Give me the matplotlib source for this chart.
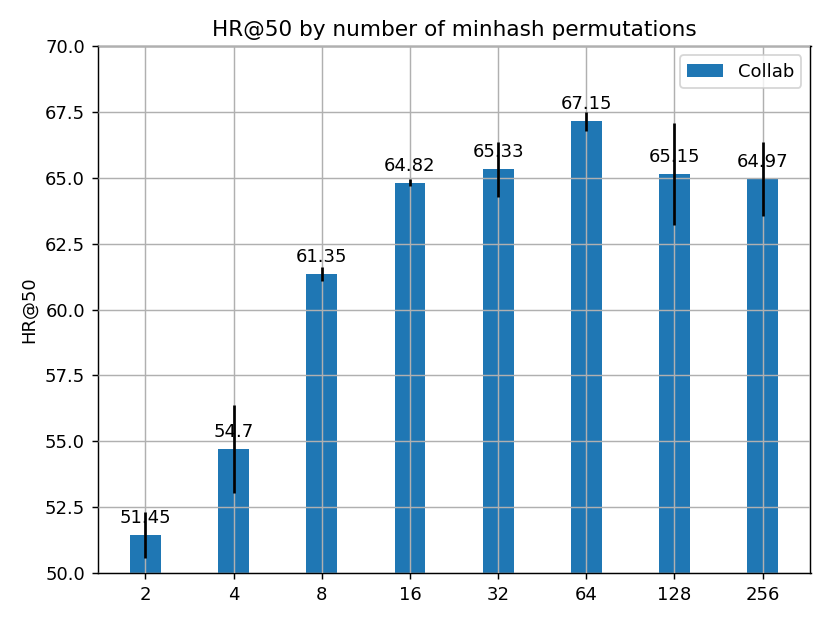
import matplotlib
matplotlib.use("Agg")
import matplotlib.pyplot as plt
import numpy as np

categories = ["2", "4", "8", "16", "32", "64", "128", "256"]
values = [51.45, 54.7, 61.35, 64.82, 65.33, 67.15, 65.15, 64.97]
errors = [0.87, 1.67, 0.25, 0.14, 1.04, 0.36, 1.95, 1.4]

fig, ax = plt.subplots(figsize=(8.3/1.3, 6.23/1.3), dpi=130)
x = np.arange(len(categories))
ax.bar(x, values, width=0.35, yerr=errors, color="#1f77b4", ecolor="black",
       label="Collab", zorder=1, error_kw=dict(zorder=4, lw=1.5))
ax.set_axisbelow(False)
ax.grid(True, zorder=2)
for xi, v in zip(x, values):
    ax.text(xi, v + 0.3, f"{v:g}", ha="center", va="bottom", fontsize=10, zorder=3)
ax.set_xticks(x)
ax.set_xticklabels(categories)
ax.set_ylim(50, 70)
ax.set_ylabel("HR@50")
ax.set_title("HR@50 by number of minhash permutations")
ax.legend(loc="upper right")
fig.tight_layout()
fig.savefig("out.png", dpi=130)
